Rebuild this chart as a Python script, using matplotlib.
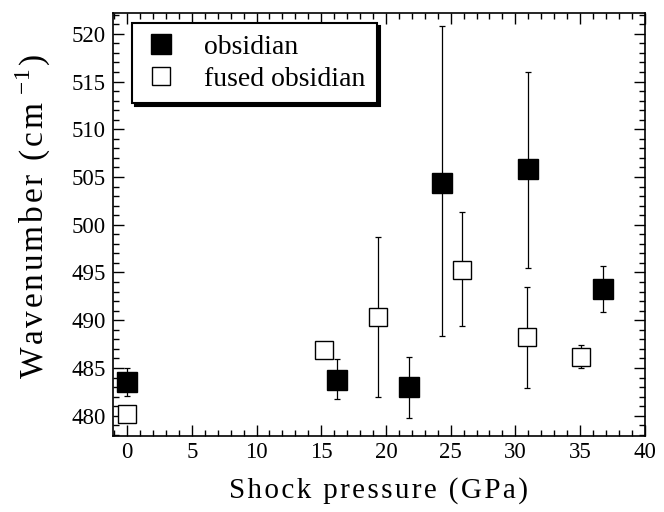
import matplotlib
matplotlib.use("Agg")
import matplotlib.pyplot as plt
from matplotlib.ticker import MultipleLocator

plt.rcParams['font.family'] = ['Liberation Serif', 'DejaVu Serif']
plt.rcParams['mathtext.fontset'] = 'custom'
plt.rcParams['mathtext.rm'] = 'Liberation Serif'

# obsidian (filled squares)
obs_x = [0, 16.2, 21.8, 24.3, 31.0, 36.8]
obs_y = [483.5, 483.7, 483.0, 504.4, 505.8, 493.3]
obs_lo = [482.1, 481.8, 479.8, 488.3, 495.5, 490.9]
obs_hi = [485.0, 485.9, 486.2, 520.8, 516.0, 495.7]

# fused obsidian (open squares)
fus_x = [0, 15.2, 19.4, 25.9, 30.9, 35.1]
fus_y = [480.2, 486.9, 490.3, 495.3, 488.2, 486.2]
fus_lo = [480.2, 486.9, 482.0, 489.4, 482.9, 485.0]
fus_hi = [480.2, 486.9, 498.7, 501.3, 493.5, 487.4]

fig = plt.figure(figsize=(6.64, 5.12), dpi=100)
ax = fig.add_axes([0.170, 0.148, 0.801, 0.827])

obs_err = [[y - l for y, l in zip(obs_y, obs_lo)], [h - y for y, h in zip(obs_y, obs_hi)]]
fus_err = [[y - l for y, l in zip(fus_y, fus_lo)], [h - y for y, h in zip(fus_y, fus_hi)]]

ax.errorbar(fus_x, fus_y, yerr=fus_err, fmt='none', ecolor='black',
            elinewidth=0.9, capsize=2.5, capthick=0.9, zorder=2)
ax.errorbar(obs_x, obs_y, yerr=obs_err, fmt='none', ecolor='black',
            elinewidth=0.9, capsize=2.5, capthick=0.9, zorder=2)
ax.plot(obs_x, obs_y, 's', ms=14, mfc='black', mec='black', mew=1,
        ls='none', label='obsidian', zorder=3)
ax.plot(fus_x, fus_y, 's', ms=13.5, mfc='white', mec='black', mew=1,
        ls='none', label='fused obsidian', zorder=3)

ax.set_xlim(-1.1, 40)
ax.set_ylim(477.85, 522.2)
ax.xaxis.set_major_locator(MultipleLocator(5))
ax.xaxis.set_minor_locator(MultipleLocator(1))
ax.yaxis.set_major_locator(MultipleLocator(5))
ax.yaxis.set_minor_locator(MultipleLocator(1))
ax.tick_params(which='both', direction='in', top=True, right=True,
               width=1, labelsize=16.5, colors='black')
ax.tick_params(which='major', length=8)
ax.tick_params(axis='x', which='major', pad=4)
ax.tick_params(axis='y', which='major', pad=5)
ax.tick_params(which='minor', length=4.5)
for s in ax.spines.values():
    s.set_linewidth(1.2)

hs = '\u200a'
ylab = hs.join('Wavenumber (cm') + ' $^{-1}$' + hs + ')'
ax.set_xlabel(hs.join('Shock pressure (GPa)'), fontsize=21, labelpad=10)
ax.set_ylabel(ylab, fontsize=24)
ax.yaxis.set_label_coords(-0.113, 0.52)

leg = ax.legend(loc='upper left', bbox_to_anchor=(0.036, 0.976),
                borderaxespad=0, fontsize=20, frameon=True, fancybox=False,
                shadow={'color': 'black', 'alpha': 1}, handletextpad=0.9,
                borderpad=0.4, labelspacing=0.25, handlelength=1.3)
leg.get_frame().set_edgecolor('black')
leg.get_frame().set_linewidth(1.5)

fig.savefig('out.png', dpi=100)
